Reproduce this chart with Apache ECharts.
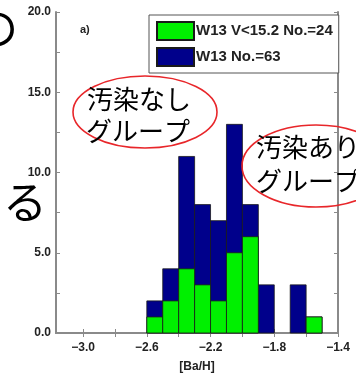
<!DOCTYPE html>
<html>
<head>
<meta charset="utf-8">
<script src="https://cdn.jsdelivr.net/npm/echarts@6/dist/echarts.min.js"></script>
<style>
html,body{margin:0;padding:0;background:#fff;}
#chart{width:356px;height:373px;}
</style>
</head>
<body>
<div id="chart"></div>
<script>
// ---- data ----
var binLeft  = [-2.6, -2.5, -2.4, -2.3, -2.2, -2.1, -2.0, -1.9, -1.8, -1.7, -1.6];
var binRight = [-2.5, -2.4, -2.3, -2.2, -2.1, -2.0, -1.9, -1.8, -1.7, -1.6, -1.5];
var allStars    = [2, 4, 11, 8, 7, 13, 8, 3, 0, 3, 1];   // W13 No.=63
var brightStars = [1, 2, 4, 3, 2, 5, 6, 0, 0, 0, 1];     // W13 V<15.2 No.=24
var seriesNames = ['W13 V<15.2 No.=24', 'W13 No.=63'];
var xTickLabels = [-3.0, -2.6, -2.2, -1.8, -1.4];
var xTicks = [-3.0, -2.8, -2.6, -2.4, -2.2, -2.0, -1.8, -1.6, -1.4];
var yTickLabels = [0, 5, 10, 15, 20];
var yTicks = [0, 2.5, 5, 7.5, 10, 12.5, 15, 17.5, 20];

function buildData(vals) {
  var out = [];
  for (var i = 0; i < vals.length; i++) {
    if (vals[i] > 0) out.push([binLeft[i], binRight[i], vals[i]]);
  }
  return out;
}

function renderBar(params, api) {
  var p0 = api.coord([api.value(0), api.value(2)]);
  var p1 = api.coord([api.value(1), 0]);
  return {
    type: 'rect',
    shape: { x: p0[0], y: p0[1], width: p1[0] - p0[0], height: p1[1] - p0[1] },
    style: { fill: api.visual('color'), stroke: '#1a1a1a', lineWidth: 0.8 }
  };
}

var chart = echarts.init(document.getElementById('chart'), null, { renderer: 'canvas' });

var axisFont = { fontFamily: 'Liberation Sans, Arial, sans-serif', fontWeight: 'bold', fontSize: 12, color: '#222' };
var frameLine = { show: true, lineStyle: { color: '#8a8a8a', width: 2 } };
var tickStyle = { show: true, inside: true, length: 4, lineStyle: { color: '#8a8a8a', width: 1 } };

function fmt(v) {
  var s = Math.abs(v).toFixed(1);
  return (v < 0 ? '\u2212' : '') + s;
}

var option = {
  backgroundColor: '#ffffff',
  animation: false,
  grid: { left: 56, right: 18, top: 12, bottom: 40, outerBoundsMode: 'none', containLabel: false },
  legend: {
    orient: 'vertical',
    left: 149,
    top: 15,
    padding: [6, 6, 6, 7],
    itemGap: 6,
    itemWidth: 37,
    itemHeight: 18,
    icon: 'rect',
    backgroundColor: '#fff',
    borderColor: '#555',
    borderWidth: 1,
    borderRadius: 0,
    selectedMode: false,
    data: seriesNames,
    textStyle: { fontFamily: 'Liberation Sans, Arial, sans-serif', fontWeight: 'bold', fontSize: 15, color: '#222', padding: [0, 0, 0, -3] }
  },
  xAxis: [{
    type: 'value',
    min: -3.17,
    max: -1.4,
    position: 'bottom',
    axisLine: frameLine,
    axisTick: Object.assign({ customValues: xTicks }, tickStyle),
    splitLine: { show: false },
    axisLabel: Object.assign({ customValues: xTickLabels, margin: 9, formatter: fmt }, axisFont),
    name: '[Ba/H]',
    nameLocation: 'middle',
    nameGap: 28,
    nameTextStyle: { fontFamily: 'Liberation Sans, Arial, sans-serif', fontWeight: 'bold', fontSize: 12, color: '#222' }
  }, {
    type: 'value',
    min: -3.17,
    max: -1.4,
    position: 'top',
    axisLine: frameLine,
    axisTick: Object.assign({ customValues: xTicks }, tickStyle),
    splitLine: { show: false },
    axisLabel: { show: false }
  }],
  yAxis: [{
    type: 'value',
    min: 0,
    max: 20,
    position: 'left',
    axisLine: frameLine,
    axisTick: Object.assign({ customValues: yTicks }, tickStyle),
    splitLine: { show: false },
    axisLabel: Object.assign({ customValues: yTickLabels, margin: 5, formatter: function (v) { return v.toFixed(1); } }, axisFont)
  }, {
    type: 'value',
    min: 0,
    max: 20,
    position: 'right',
    axisLine: frameLine,
    axisTick: Object.assign({ customValues: yTicks }, tickStyle),
    splitLine: { show: false },
    axisLabel: { show: false }
  }],
  series: [{
    name: seriesNames[1],
    type: 'custom',
    xAxisIndex: 0,
    yAxisIndex: 0,
    renderItem: renderBar,
    itemStyle: { color: '#00008b', borderColor: '#1a1a1a', borderWidth: 0.8 },
    encode: { x: [0, 1], y: 2 },
    data: buildData(allStars),
    z: 2
  }, {
    name: seriesNames[0],
    type: 'custom',
    xAxisIndex: 0,
    yAxisIndex: 0,
    renderItem: renderBar,
    itemStyle: { color: '#00f000', borderColor: '#1a1a1a', borderWidth: 0.8 },
    encode: { x: [0, 1], y: 2 },
    data: buildData(brightStars),
    z: 3
  }],
  graphic: [
    { type: 'text', left: 80, top: 24, z: 10,
      style: { text: 'a)', fontFamily: 'Liberation Sans, Arial, sans-serif', fontWeight: 'bold', fontSize: 11, fill: '#222' } },
    // slide overlay text
    { type: 'text', x: 18, y: 28, z: 20,
      style: { text: 'の', fontFamily: 'Noto Sans CJK JP', fontSize: 44, fill: '#000', align: 'right', verticalAlign: 'middle' } },
    { type: 'text', x: 47, y: 202, z: 20,
      style: { text: 'なる', fontFamily: 'Noto Sans CJK JP', fontSize: 44, fill: '#000', align: 'right', verticalAlign: 'middle' } },
    { type: 'ellipse', z: 20, shape: { cx: 145, cy: 112, rx: 72, ry: 36 },
      style: { fill: 'none', stroke: '#e8262a', lineWidth: 1.6 } },
    { type: 'text', x: 87, y: 99, z: 21,
      style: { text: '汚染なし', fontFamily: 'Noto Sans CJK JP', fontSize: 26, fill: '#000', verticalAlign: 'middle' } },
    { type: 'text', x: 86, y: 131, z: 21,
      style: { text: 'グループ', fontFamily: 'Noto Sans CJK JP', fontSize: 26, fill: '#000', verticalAlign: 'middle' } },
    { type: 'ellipse', z: 20, shape: { cx: 316, cy: 166, rx: 74, ry: 41 },
      style: { fill: 'none', stroke: '#e8262a', lineWidth: 1.6 } },
    { type: 'text', x: 256, y: 147, z: 21,
      style: { text: '汚染あり', fontFamily: 'Noto Sans CJK JP', fontSize: 26, fill: '#000', verticalAlign: 'middle' } },
    { type: 'text', x: 256, y: 181, z: 21,
      style: { text: 'グループ', fontFamily: 'Noto Sans CJK JP', fontSize: 26, fill: '#000', verticalAlign: 'middle' } }
  ]
};
chart.setOption(option);
</script>
</body>
</html>
